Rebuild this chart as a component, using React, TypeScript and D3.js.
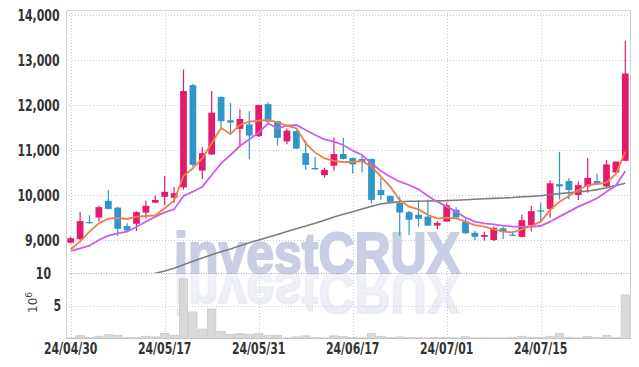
import React from "react";
import * as d3 from "d3";

const dates = ["24/04/30","24/05/02","24/05/03","24/05/07","24/05/08","24/05/09","24/05/10","24/05/13","24/05/14","24/05/16","24/05/17","24/05/20","24/05/21","24/05/22","24/05/23","24/05/24","24/05/27","24/05/28","24/05/29","24/05/30","24/05/31","24/06/03","24/06/04","24/06/05","24/06/07","24/06/10","24/06/11","24/06/12","24/06/13","24/06/14","24/06/17","24/06/18","24/06/19","24/06/20","24/06/21","24/06/24","24/06/25","24/06/26","24/06/27","24/06/28","24/07/01","24/07/02","24/07/03","24/07/04","24/07/05","24/07/08","24/07/09","24/07/10","24/07/11","24/07/12","24/07/15","24/07/16","24/07/17","24/07/18","24/07/19","24/07/22","24/07/23","24/07/24","24/07/25","24/07/26"];

const opens = [8940,9020,9400,9500,9870,9720,9310,9360,9610,9830,9960,9940,10170,12440,10540,10900,12180,11660,11470,11570,11310,12020,11640,11190,11420,10930,10600,10440,10650,10910,10820,10800,10800,10110,9980,9820,9620,9560,9520,9320,9410,9670,9410,9160,9070,9000,9260,9120,9070,9330,9660,9690,10240,10310,10000,10190,10310,10190,10500,10760];
const highs = [9070,9630,9550,9760,10110,9740,9370,9640,9870,9990,10420,10170,12790,12470,11060,12310,12190,12050,11900,11860,12010,12060,11650,11480,11440,11210,10850,10610,11280,11280,10830,10890,10810,10370,9990,9960,9650,9890,9900,9420,9830,9730,9480,9200,9190,9300,9300,9190,9560,9760,9820,10320,10960,10370,10300,10820,10470,10780,10750,13430];
const lows = [8920,9000,9360,9410,9680,9090,9180,9200,9480,9820,9780,9820,10120,10630,10350,10890,11480,11330,11090,10790,11290,11580,11100,11130,11020,10560,10560,10390,10540,10790,10480,10500,9810,9900,9840,9100,9110,9300,9310,9240,9400,9500,9140,9000,8990,8980,9020,9090,9060,9190,9390,9500,9900,9900,9890,10050,10230,10180,10490,10750];
const closes = [9040,9420,9380,9730,9690,9250,9210,9620,9760,9890,10070,10040,12310,10670,10930,11830,11640,11610,11690,11320,12000,11630,11270,11430,11030,10670,10570,10560,10910,10800,10680,10730,9890,10000,9850,9610,9450,9470,9320,9380,9770,9500,9150,9070,9110,9270,9180,9100,9440,9640,9630,10260,10190,10110,10220,10380,10250,10680,10740,12700];
const volumes = [0.1,0.45,0.15,0.35,0.6,0.5,0.15,0.15,0.35,0.25,0.8,0.5,9.1,4.05,1.45,4.5,1.1,0.65,0.75,0.65,0.75,0.45,0.45,0.1,0.25,0.4,0.15,0.1,0.4,0.3,0.15,0.1,0.75,0.35,0.15,0.25,0.15,0.12,0.1,0.15,0.15,0.1,0.3,0.1,0.1,0.1,0.1,0.15,0.35,0.2,0.15,0.35,0.8,0.15,0.1,0.3,0.15,0.45,0.15,6.65];
const ma5 = [8793,8963,9185,9370,9474,9489,9467,9519,9533,9548,9704,9874,10422,10593,10815,11148,11489,11356,11556,11630,11650,11667,11615,11541,11481,11148,10941,10815,10756,10733,10733,10756,10630,10407,10185,9889,9741,9681,9556,9481,9496,9481,9407,9333,9296,9237,9185,9170,9237,9311,9407,9667,9852,9978,10111,10222,10244,10274,10467,10963];
const ma10 = [8756,8815,8874,9000,9096,9148,9185,9296,9407,9519,9615,9681,9978,10074,10185,10444,10704,10889,11089,11237,11385,11593,11481,11541,11556,11444,11333,11237,11185,11111,10985,10889,10704,10533,10407,10296,10222,10126,9978,9852,9741,9630,9496,9407,9370,9348,9319,9296,9296,9296,9311,9407,9519,9630,9741,9830,9926,10074,10210,10533];
const maLong = [7900,7940,7980,8020,8060,8100,8140,8180,8220,8260,8310,8370,8450,8530,8600,8670,8740,8800,8870,8940,9000,9060,9120,9190,9250,9310,9370,9440,9510,9570,9630,9690,9750,9800,9830,9850,9860,9860,9865,9870,9875,9885,9895,9905,9915,9925,9935,9945,9960,9970,9985,10010,10030,10050,10070,10090,10120,10160,10210,10260];
const priceTicks = [9000,10000,11000,12000,13000,14000];
const volTicks = [5,10];
const labelIdx = [0,10,20,30,40,50];

const W = 639, H = 367;
const PL = 66, PR = 630, PT = 10, PB = 273, VB = 338.5;
const UP = "#e31b6d", DOWN = "#2e96c9";
const tickFont = "'DejaVu Sans Condensed','DejaVu Sans',sans-serif";
const SX = 0.81;

export default function App() {
  const idx = d3.range(dates.length);
  const x = d3.scaleBand<number>().domain(idx).range([PL, PR]).padding(0);
  const bw = x.bandwidth();
  const cx = (i: number) => (x(i) as number) + bw / 2;
  const y = d3.scaleLinear().domain([9000, 14000]).range([240, 15]);
  const yv = d3.scaleLinear().domain([0, 10]).range([VB, PB]);
  const fmt = d3.format(",");
  const line = (arr: number[]) =>
    d3.line<number>().x((_, i) => cx(i)).y((d) => y(d)).curve(d3.curveLinear)(arr) || "";
  const body = bw * 0.72;

  const label = (key: string, tx: number, ty: number, s: string, anchor: string) => (
    <text key={key} transform={`translate(${tx},${ty}) scale(${SX},1)`} textAnchor={anchor}>{s}</text>
  );

  return (
    <svg width={W} height={H} style={{ position: "absolute", left: 0, top: 0, background: "#fff" }}>
      <defs>
        <clipPath id="pclip"><rect x={PL} y={PT} width={PR - PL} height={PB - PT} /></clipPath>
        <linearGradient id="refl" x1="0" y1="0" x2="0" y2="1">
          <stop offset="0" stopColor="#d3d8e8" stopOpacity={0.75} />
          <stop offset="1" stopColor="#d3d8e8" stopOpacity={0.35} />
        </linearGradient>
      </defs>
      {/* grid */}
      {priceTicks.map((t) => (
        <line key={"pg" + t} x1={PL} x2={PR} y1={Math.round(y(t)) + 0.5} y2={Math.round(y(t)) + 0.5}
          stroke="#c6c9dc" strokeDasharray="1,2" />
      ))}
      {labelIdx.map((i) => (
        <line key={"vg" + i} x1={Math.round(cx(i)) + 0.5} x2={Math.round(cx(i)) + 0.5} y1={PT} y2={VB}
          stroke="#c6c9dc" strokeDasharray="1,2" />
      ))}
      <line x1={PL} x2={PR} y1={Math.round(yv(5)) + 0.5} y2={Math.round(yv(5)) + 0.5} stroke="#c6c9dc" strokeDasharray="1,2" />
      {/* watermark */}
      <g fontFamily="'Liberation Sans',Arial,sans-serif" fontWeight="bold" fontSize={58}>
        <text x={174} y={PB} textLength={286} lengthAdjust="spacingAndGlyphs" fill="#c8cfe5" stroke="#c8cfe5" strokeWidth={2.2} strokeLinejoin="round">investCRUX</text>
        <g transform={`translate(0,${2 * PB}) scale(1,-1)`}>
          <text x={174} y={PB} textLength={286} lengthAdjust="spacingAndGlyphs" fill="url(#refl)" stroke="url(#refl)" strokeWidth={2.2} opacity={0.65}>investCRUX</text>
        </g>
      </g>
      {/* volume bars */}
      {volumes.map((v, i) => (
        <rect key={"v" + i} x={(x(i) as number) + 0.5} y={yv(v)} width={bw - 1} height={VB - yv(v)}
          fill="#d2d2d2" fillOpacity={0.85} stroke="#c2c2c2" strokeWidth={0.6} />
      ))}
      <line x1={PL} x2={PR} y1={PB + 0.5} y2={PB + 0.5} stroke="#a8a8b4" strokeDasharray="1,1.5" />
      {/* candles */}
      <g clipPath="url(#pclip)">
        {idx.map((i) => {
          const up = closes[i] >= opens[i];
          const col = up ? UP : DOWN;
          const top = y(Math.max(opens[i], closes[i]));
          const bot = y(Math.min(opens[i], closes[i]));
          return (
            <g key={"c" + i}>
              <line x1={cx(i)} x2={cx(i)} y1={y(highs[i])} y2={y(lows[i])} stroke={col} strokeWidth={1.2} />
              <rect x={cx(i) - body / 2} y={top} width={body} height={Math.max(1.2, bot - top)} fill={col} />
            </g>
          );
        })}
        <path d={line(maLong)} fill="none" stroke="#7d7d7d" strokeWidth={1.6} />
        <path d={line(ma10)} fill="none" stroke="#cc5ee8" strokeWidth={1.8} />
        <path d={line(ma5)} fill="none" stroke="#ef7f48" strokeWidth={1.8} />
      </g>
      {/* frame */}
      <line x1={PL} x2={PR + 1} y1={PT + 0.5} y2={PT + 0.5} stroke="#d6d6d6" />
      <line x1={PL + 0.5} x2={PL + 0.5} y1={PT} y2={VB} stroke="#d0d0d0" />
      <line x1={PR + 0.5} x2={PR + 0.5} y1={PT} y2={VB} stroke="#d0d0d0" />
      <line x1={PL} x2={PR + 1} y1={VB} y2={VB} stroke="#c4c4c4" />
      {/* labels */}
      <g fontFamily={tickFont} fontWeight="bold" fontSize={15} fill="#333">
        {priceTicks.map((t) => label("pl" + t, 59.5, y(t) + 5.5, fmt(t), "end"))}
        {label("vl10", 51, yv(10) + 5.5, "10", "end")}
        {label("vl5", 61, yv(5) + 5.5, "5", "end")}
        {labelIdx.map((i) => label("xl" + i, cx(i), 354, dates[i], "middle"))}
      </g>
      <text transform="translate(37,313) rotate(-90)" fontFamily="'DejaVu Sans',sans-serif" fontSize={12} fill="#444">
        10<tspan dy={-5} fontSize={9}>6</tspan>
      </text>
    </svg>
  );
}
